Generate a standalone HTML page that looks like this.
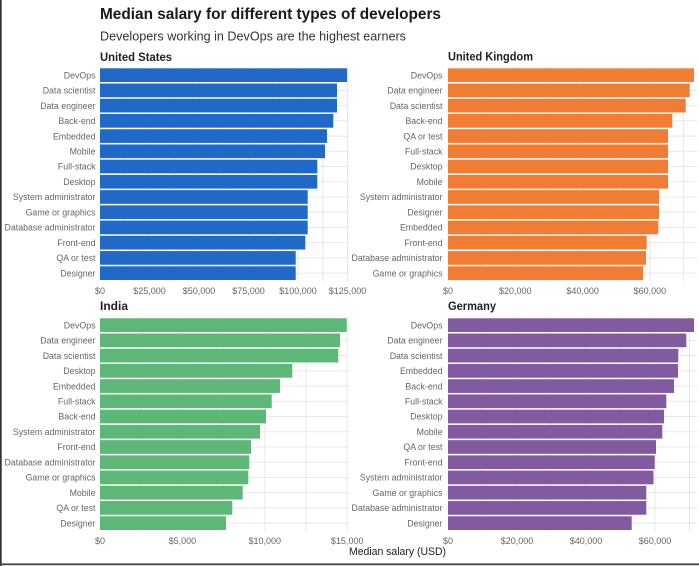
<!DOCTYPE html>
<html>
<head>
<meta charset="utf-8">
<style>
  html,body{margin:0;padding:0;background:#fff;}
  svg{display:block;}
  text{font-family:"Liberation Sans", Arial, sans-serif;}
  .lbl{font-size:8.8px;fill:#666;text-anchor:end;}
  .tick{font-size:9px;fill:#666;text-anchor:middle;}
  .pt{font-size:11.5px;font-weight:bold;fill:#222;}
  .g{stroke:#e8e8e8;stroke-width:1;}
</style>
</head>
<body>
<svg width="699" height="566" viewBox="0 0 699 566" xmlns="http://www.w3.org/2000/svg">
<rect x="0" y="0" width="699" height="566" fill="#fff"/>
<rect x="0" y="0" width="1.7" height="566" fill="#333"/>
<rect x="0" y="563.4" width="699" height="1.8" fill="#444"/>

<text x="100" y="19" font-size="15.4" font-weight="bold" fill="#1a1a1a" textLength="341" lengthAdjust="spacingAndGlyphs">Median salary for different types of developers</text>
<text x="100" y="40.7" font-size="12.5" fill="#333" textLength="306" lengthAdjust="spacingAndGlyphs">Developers working in DevOps are the highest earners</text>

<!-- United States -->
<g transform="translate(100,68.3)">
  <text class="pt" x="0" y="-7.3" textLength="72" lengthAdjust="spacingAndGlyphs">United States</text>
  <g class="g">
    <line x1="0" x2="249" y1="6.85" y2="6.85"/><line x1="0" x2="249" y1="22.08" y2="22.08"/><line x1="0" x2="249" y1="37.31" y2="37.31"/><line x1="0" x2="249" y1="52.54" y2="52.54"/><line x1="0" x2="249" y1="67.77" y2="67.77"/><line x1="0" x2="249" y1="83" y2="83"/><line x1="0" x2="249" y1="98.23" y2="98.23"/><line x1="0" x2="249" y1="113.46" y2="113.46"/><line x1="0" x2="249" y1="128.69" y2="128.69"/><line x1="0" x2="249" y1="143.92" y2="143.92"/><line x1="0" x2="249" y1="159.15" y2="159.15"/><line x1="0" x2="249" y1="174.38" y2="174.38"/><line x1="0" x2="249" y1="189.61" y2="189.61"/><line x1="0" x2="249" y1="204.84" y2="204.84"/>
    <line x1="24.75" x2="24.75" y1="-1.5" y2="213.5"/><line x1="49.5" x2="49.5" y1="-1.5" y2="213.5"/><line x1="74.25" x2="74.25" y1="-1.5" y2="213.5"/><line x1="99" x2="99" y1="-1.5" y2="213.5"/><line x1="123.75" x2="123.75" y1="-1.5" y2="213.5"/><line x1="148.5" x2="148.5" y1="-1.5" y2="213.5"/><line x1="173.25" x2="173.25" y1="-1.5" y2="213.5"/><line x1="198" x2="198" y1="-1.5" y2="213.5"/><line x1="222.75" x2="222.75" y1="-1.5" y2="213.5"/><line x1="247.5" x2="247.5" y1="-1.5" y2="213.5"/>
  </g>
  <g fill="#2069c6">
    <rect x="0" y="0" width="247" height="13.7"/>
    <rect x="0" y="15.23" width="237" height="13.7"/>
    <rect x="0" y="30.46" width="237" height="13.7"/>
    <rect x="0" y="45.69" width="233.3" height="13.7"/>
    <rect x="0" y="60.92" width="227" height="13.7"/>
    <rect x="0" y="76.15" width="225" height="13.7"/>
    <rect x="0" y="91.38" width="217.3" height="13.7"/>
    <rect x="0" y="106.61" width="217.3" height="13.7"/>
    <rect x="0" y="121.84" width="207.7" height="13.7"/>
    <rect x="0" y="137.07" width="207.7" height="13.7"/>
    <rect x="0" y="152.3" width="207.7" height="13.7"/>
    <rect x="0" y="167.53" width="205.3" height="13.7"/>
    <rect x="0" y="182.76" width="195.7" height="13.7"/>
    <rect x="0" y="197.99" width="195.7" height="13.7"/>
  </g>
  <g class="lbl">
    <text class="lbl" x="-4.5" y="10.05">DevOps</text>
    <text class="lbl" x="-4.5" y="25.28">Data scientist</text>
    <text class="lbl" x="-4.5" y="40.51">Data engineer</text>
    <text class="lbl" x="-4.5" y="55.74">Back-end</text>
    <text class="lbl" x="-4.5" y="70.97">Embedded</text>
    <text class="lbl" x="-4.5" y="86.2">Mobile</text>
    <text class="lbl" x="-4.5" y="101.43">Full-stack</text>
    <text class="lbl" x="-4.5" y="116.66">Desktop</text>
    <text class="lbl" x="-4.5" y="131.89">System administrator</text>
    <text class="lbl" x="-4.5" y="147.12">Game or graphics</text>
    <text class="lbl" x="-4.5" y="162.35">Database administrator</text>
    <text class="lbl" x="-4.5" y="177.58">Front-end</text>
    <text class="lbl" x="-4.5" y="192.81">QA or test</text>
    <text class="lbl" x="-4.5" y="208.04">Designer</text>
  </g>
  <text class="tick" x="0" y="225.7">$0</text>
  <text class="tick" x="49.5" y="225.7">$25,000</text>
  <text class="tick" x="99" y="225.7">$50,000</text>
  <text class="tick" x="148.5" y="225.7">$75,000</text>
  <text class="tick" x="198" y="225.7">$100,000</text>
  <text class="tick" x="247.5" y="225.7">$125,000</text>
</g>

<!-- United Kingdom -->
<g transform="translate(448,68.3)">
  <text class="pt" x="0" y="-7.6" textLength="85" lengthAdjust="spacingAndGlyphs">United Kingdom</text>
  <g class="g">
    <line x1="0" x2="249" y1="6.85" y2="6.85"/><line x1="0" x2="249" y1="22.08" y2="22.08"/><line x1="0" x2="249" y1="37.31" y2="37.31"/><line x1="0" x2="249" y1="52.54" y2="52.54"/><line x1="0" x2="249" y1="67.77" y2="67.77"/><line x1="0" x2="249" y1="83" y2="83"/><line x1="0" x2="249" y1="98.23" y2="98.23"/><line x1="0" x2="249" y1="113.46" y2="113.46"/><line x1="0" x2="249" y1="128.69" y2="128.69"/><line x1="0" x2="249" y1="143.92" y2="143.92"/><line x1="0" x2="249" y1="159.15" y2="159.15"/><line x1="0" x2="249" y1="174.38" y2="174.38"/><line x1="0" x2="249" y1="189.61" y2="189.61"/><line x1="0" x2="249" y1="204.84" y2="204.84"/>
    <line x1="33.65" x2="33.65" y1="-1.5" y2="213.5"/><line x1="67.3" x2="67.3" y1="-1.5" y2="213.5"/><line x1="100.95" x2="100.95" y1="-1.5" y2="213.5"/><line x1="134.6" x2="134.6" y1="-1.5" y2="213.5"/><line x1="168.25" x2="168.25" y1="-1.5" y2="213.5"/><line x1="201.9" x2="201.9" y1="-1.5" y2="213.5"/><line x1="235.55" x2="235.55" y1="-1.5" y2="213.5"/>
  </g>
  <g fill="#f17c34">
    <rect x="0" y="0" width="246" height="13.7"/>
    <rect x="0" y="15.23" width="241.7" height="13.7"/>
    <rect x="0" y="30.46" width="237.7" height="13.7"/>
    <rect x="0" y="45.69" width="224.3" height="13.7"/>
    <rect x="0" y="60.92" width="220" height="13.7"/>
    <rect x="0" y="76.15" width="220" height="13.7"/>
    <rect x="0" y="91.38" width="220" height="13.7"/>
    <rect x="0" y="106.61" width="220" height="13.7"/>
    <rect x="0" y="121.84" width="211" height="13.7"/>
    <rect x="0" y="137.07" width="211" height="13.7"/>
    <rect x="0" y="152.3" width="210.3" height="13.7"/>
    <rect x="0" y="167.53" width="198.7" height="13.7"/>
    <rect x="0" y="182.76" width="198" height="13.7"/>
    <rect x="0" y="197.99" width="195" height="13.7"/>
  </g>
  <text class="lbl" x="-5.5" y="10.05">DevOps</text>
  <text class="lbl" x="-5.5" y="25.28">Data engineer</text>
  <text class="lbl" x="-5.5" y="40.51">Data scientist</text>
  <text class="lbl" x="-5.5" y="55.74">Back-end</text>
  <text class="lbl" x="-5.5" y="70.97">QA or test</text>
  <text class="lbl" x="-5.5" y="86.2">Full-stack</text>
  <text class="lbl" x="-5.5" y="101.43">Desktop</text>
  <text class="lbl" x="-5.5" y="116.66">Mobile</text>
  <text class="lbl" x="-5.5" y="131.89">System administrator</text>
  <text class="lbl" x="-5.5" y="147.12">Designer</text>
  <text class="lbl" x="-5.5" y="162.35">Embedded</text>
  <text class="lbl" x="-5.5" y="177.58">Front-end</text>
  <text class="lbl" x="-5.5" y="192.81">Database administrator</text>
  <text class="lbl" x="-5.5" y="208.04">Game or graphics</text>
  <text class="tick" x="0" y="225.7">$0</text>
  <text class="tick" x="67.3" y="225.7">$20,000</text>
  <text class="tick" x="134.6" y="225.7">$40,000</text>
  <text class="tick" x="201.9" y="225.7">$60,000</text>
</g>

<!-- India -->
<g transform="translate(100,318.3)">
  <text class="pt" x="0" y="-8.3" textLength="28" lengthAdjust="spacingAndGlyphs">India</text>
  <g class="g">
    <line x1="0" x2="249" y1="6.85" y2="6.85"/><line x1="0" x2="249" y1="22.08" y2="22.08"/><line x1="0" x2="249" y1="37.31" y2="37.31"/><line x1="0" x2="249" y1="52.54" y2="52.54"/><line x1="0" x2="249" y1="67.77" y2="67.77"/><line x1="0" x2="249" y1="83" y2="83"/><line x1="0" x2="249" y1="98.23" y2="98.23"/><line x1="0" x2="249" y1="113.46" y2="113.46"/><line x1="0" x2="249" y1="128.69" y2="128.69"/><line x1="0" x2="249" y1="143.92" y2="143.92"/><line x1="0" x2="249" y1="159.15" y2="159.15"/><line x1="0" x2="249" y1="174.38" y2="174.38"/><line x1="0" x2="249" y1="189.61" y2="189.61"/><line x1="0" x2="249" y1="204.84" y2="204.84"/>
    <line x1="41.2" x2="41.2" y1="-1.5" y2="213.5"/><line x1="82.4" x2="82.4" y1="-1.5" y2="213.5"/><line x1="123.6" x2="123.6" y1="-1.5" y2="213.5"/><line x1="164.8" x2="164.8" y1="-1.5" y2="213.5"/><line x1="206" x2="206" y1="-1.5" y2="213.5"/><line x1="247.2" x2="247.2" y1="-1.5" y2="213.5"/>
  </g>
  <g fill="#5db776">
    <rect x="0" y="0" width="246.7" height="13.7"/>
    <rect x="0" y="15.23" width="240" height="13.7"/>
    <rect x="0" y="30.46" width="238.3" height="13.7"/>
    <rect x="0" y="45.69" width="192.3" height="13.7"/>
    <rect x="0" y="60.92" width="180" height="13.7"/>
    <rect x="0" y="76.15" width="171.7" height="13.7"/>
    <rect x="0" y="91.38" width="166" height="13.7"/>
    <rect x="0" y="106.61" width="160" height="13.7"/>
    <rect x="0" y="121.84" width="151" height="13.7"/>
    <rect x="0" y="137.07" width="149.3" height="13.7"/>
    <rect x="0" y="152.3" width="148.3" height="13.7"/>
    <rect x="0" y="167.53" width="142.7" height="13.7"/>
    <rect x="0" y="182.76" width="132.3" height="13.7"/>
    <rect x="0" y="197.99" width="126" height="13.7"/>
  </g>
  <text class="lbl" x="-4.5" y="10.05">DevOps</text>
  <text class="lbl" x="-4.5" y="25.28">Data engineer</text>
  <text class="lbl" x="-4.5" y="40.51">Data scientist</text>
  <text class="lbl" x="-4.5" y="55.74">Desktop</text>
  <text class="lbl" x="-4.5" y="70.97">Embedded</text>
  <text class="lbl" x="-4.5" y="86.2">Full-stack</text>
  <text class="lbl" x="-4.5" y="101.43">Back-end</text>
  <text class="lbl" x="-4.5" y="116.66">System administrator</text>
  <text class="lbl" x="-4.5" y="131.89">Front-end</text>
  <text class="lbl" x="-4.5" y="147.12">Database administrator</text>
  <text class="lbl" x="-4.5" y="162.35">Game or graphics</text>
  <text class="lbl" x="-4.5" y="177.58">Mobile</text>
  <text class="lbl" x="-4.5" y="192.81">QA or test</text>
  <text class="lbl" x="-4.5" y="208.04">Designer</text>
  <text class="tick" x="0" y="225.7">$0</text>
  <text class="tick" x="82.4" y="225.7">$5,000</text>
  <text class="tick" x="164.8" y="225.7">$10,000</text>
  <text class="tick" x="247.2" y="225.7">$15,000</text>
</g>

<!-- Germany -->
<g transform="translate(448,318.3)">
  <text class="pt" x="0" y="-8.3" textLength="48" lengthAdjust="spacingAndGlyphs">Germany</text>
  <g class="g">
    <line x1="0" x2="249" y1="6.85" y2="6.85"/><line x1="0" x2="249" y1="22.08" y2="22.08"/><line x1="0" x2="249" y1="37.31" y2="37.31"/><line x1="0" x2="249" y1="52.54" y2="52.54"/><line x1="0" x2="249" y1="67.77" y2="67.77"/><line x1="0" x2="249" y1="83" y2="83"/><line x1="0" x2="249" y1="98.23" y2="98.23"/><line x1="0" x2="249" y1="113.46" y2="113.46"/><line x1="0" x2="249" y1="128.69" y2="128.69"/><line x1="0" x2="249" y1="143.92" y2="143.92"/><line x1="0" x2="249" y1="159.15" y2="159.15"/><line x1="0" x2="249" y1="174.38" y2="174.38"/><line x1="0" x2="249" y1="189.61" y2="189.61"/><line x1="0" x2="249" y1="204.84" y2="204.84"/>
    <line x1="34.5" x2="34.5" y1="-1.5" y2="213.5"/><line x1="69" x2="69" y1="-1.5" y2="213.5"/><line x1="103.5" x2="103.5" y1="-1.5" y2="213.5"/><line x1="138" x2="138" y1="-1.5" y2="213.5"/><line x1="172.5" x2="172.5" y1="-1.5" y2="213.5"/><line x1="207" x2="207" y1="-1.5" y2="213.5"/><line x1="241.5" x2="241.5" y1="-1.5" y2="213.5"/>
  </g>
  <g fill="#825a9f">
    <rect x="0" y="0" width="246" height="13.7"/>
    <rect x="0" y="15.23" width="238.3" height="13.7"/>
    <rect x="0" y="30.46" width="230.3" height="13.7"/>
    <rect x="0" y="45.69" width="230" height="13.7"/>
    <rect x="0" y="60.92" width="226" height="13.7"/>
    <rect x="0" y="76.15" width="218.3" height="13.7"/>
    <rect x="0" y="91.38" width="216" height="13.7"/>
    <rect x="0" y="106.61" width="214.3" height="13.7"/>
    <rect x="0" y="121.84" width="208" height="13.7"/>
    <rect x="0" y="137.07" width="206.7" height="13.7"/>
    <rect x="0" y="152.3" width="205.5" height="13.7"/>
    <rect x="0" y="167.53" width="198.3" height="13.7"/>
    <rect x="0" y="182.76" width="198.3" height="13.7"/>
    <rect x="0" y="197.99" width="183.7" height="13.7"/>
  </g>
  <text class="lbl" x="-5.5" y="10.05">DevOps</text>
  <text class="lbl" x="-5.5" y="25.28">Data engineer</text>
  <text class="lbl" x="-5.5" y="40.51">Data scientist</text>
  <text class="lbl" x="-5.5" y="55.74">Embedded</text>
  <text class="lbl" x="-5.5" y="70.97">Back-end</text>
  <text class="lbl" x="-5.5" y="86.2">Full-stack</text>
  <text class="lbl" x="-5.5" y="101.43">Desktop</text>
  <text class="lbl" x="-5.5" y="116.66">Mobile</text>
  <text class="lbl" x="-5.5" y="131.89">QA or test</text>
  <text class="lbl" x="-5.5" y="147.12">Front-end</text>
  <text class="lbl" x="-5.5" y="162.35">System administrator</text>
  <text class="lbl" x="-5.5" y="177.58">Game or graphics</text>
  <text class="lbl" x="-5.5" y="192.81">Database administrator</text>
  <text class="lbl" x="-5.5" y="208.04">Designer</text>
  <text class="tick" x="0" y="225.7">$0</text>
  <text class="tick" x="69" y="225.7">$20,000</text>
  <text class="tick" x="138" y="225.7">$40,000</text>
  <text class="tick" x="207" y="225.7">$60,000</text>
</g>

<text x="349" y="555" font-size="10.8" fill="#222" textLength="97" lengthAdjust="spacingAndGlyphs">Median salary (USD)</text>
</svg>
</body>
</html>
